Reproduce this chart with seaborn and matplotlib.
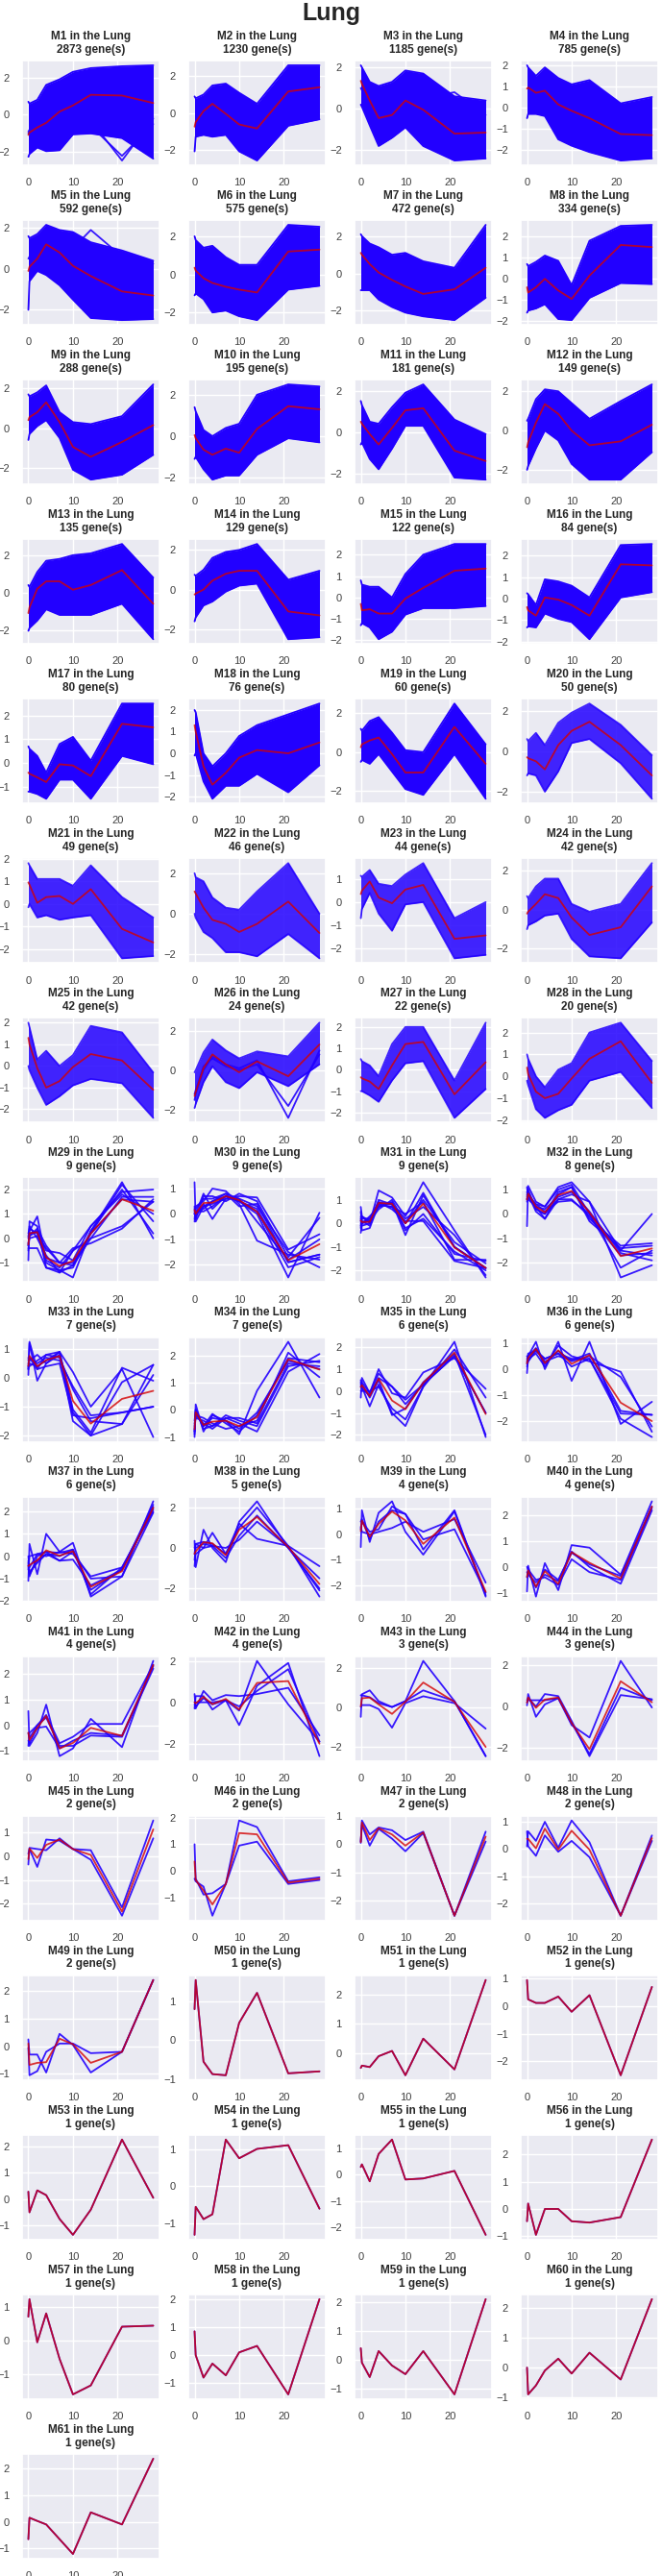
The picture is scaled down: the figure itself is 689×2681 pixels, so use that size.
import numpy as np
import pandas as pd
import matplotlib
matplotlib.use("Agg")
import matplotlib.pyplot as plt
from matplotlib.ticker import MaxNLocator
import seaborn as sns

# ---------------- data ----------------
TISSUE = "Lung"
TIME = [0, 0.25, 2, 4, 7, 10, 14, 21, 28]

MODULES = [f"M{i}" for i in range(1, 62)]
GENE_COUNTS = [2873, 1230, 1185, 785, 592, 575, 472, 334, 288, 195, 181, 149,
               135, 129, 122, 84, 80, 76, 60, 50, 49, 46, 44, 42, 42, 24, 22, 20,
               9, 9, 9, 8, 7, 7, 6, 6, 6, 5, 4, 4, 4, 4, 3, 3,
               2, 2, 2, 2, 2, 1, 1, 1, 1, 1, 1, 1, 1, 1, 1, 1, 1]

# mean profiles of the large modules (red line)
MEAN_PROFILES = {
    "M1": [-1.08, -0.95, -0.68, -0.43, 0.17, 0.5, 1.07, 1.03, 0.63],
    "M2": [-0.75, -0.5, 0.1, 0.5, -0.05, -0.63, -0.85, 1.17, 1.4],
    "M3": [1.35, 1.2, 0.4, -0.45, -0.3, 0.4, -0.05, -1.2, -1.15],
    "M4": [0.9, 0.95, 0.7, 0.8, 0.15, -0.15, -0.5, -1.25, -1.3],
    "M5": [-0.1, 0.1, 0.5, 1.2, 0.8, 0.15, -0.35, -1.1, -1.3],
    "M6": [0.35, 0.2, -0.2, -0.45, -0.65, -0.8, -0.95, 1.2, 1.3],
    "M7": [1.1, 1.0, 0.5, 0.05, -0.35, -0.7, -1.1, -0.85, 0.3],
    "M8": [-0.4, -0.65, -0.4, 0.0, -0.55, -0.95, 0.15, 1.6, 1.5],
    "M9": [0.4, 0.55, 0.8, 1.3, 0.3, -0.95, -1.45, -0.7, 0.15],
    "M10": [0.05, -0.1, -0.65, -0.9, -0.6, -0.8, 0.35, 1.45, 1.3],
    "M11": [0.5, 0.4, -0.1, -0.6, 0.2, 1.05, 1.15, -0.9, -1.4],
    "M12": [-0.85, -0.6, 0.4, 1.35, 0.85, 0.0, -0.75, -0.55, 0.3],
    "M13": [-1.1, -0.8, 0.2, 0.6, 0.6, 0.15, 0.4, 1.2, -0.6],
    "M14": [-0.25, -0.2, 0.0, 0.45, 0.8, 0.95, 0.95, -1.1, -1.3],
    "M15": [-0.3, -0.6, -0.55, -0.75, -0.75, -0.05, 0.45, 1.25, 1.35],
    "M16": [-0.4, -0.55, -0.8, 0.05, -0.05, -0.3, -0.8, 1.6, 1.55],
    "M17": [-0.4, -0.45, -0.6, -0.8, -0.05, -0.1, -0.55, 1.65, 1.5],
    "M18": [1.3, 1.0, -0.6, -1.45, -0.9, -0.2, 0.15, 0.0, 0.5],
    "M19": [0.25, 0.4, 0.6, 0.75, -0.1, -1.05, -1.05, 1.3, -0.6],
    "M20": [-0.3, -0.35, -0.5, -0.9, 0.3, 1.0, 1.45, 0.3, -1.2],
    "M21": [0.95, 0.85, 0.05, 0.3, 0.35, 0.0, 0.65, -1.1, -1.7],
    "M22": [1.1, 1.0, 0.3, -0.3, -0.5, -0.9, -0.5, 0.6, -0.95],
    "M23": [0.35, 0.5, 0.9, 0.2, -0.05, 0.55, 0.75, -1.6, -1.45],
    "M24": [-0.2, -0.1, 0.3, 0.8, 0.6, -0.4, -1.3, -0.9, 1.2],
    "M25": [1.3, 1.0, -0.1, -1.0, -0.7, -0.05, 0.55, 0.25, -1.1],
    "M26": [-1.3, -1.1, 0.1, 0.8, 0.3, -0.1, 0.45, -0.3, 1.3],
    "M27": [-0.35, -0.4, -0.55, -0.9, 0.2, 1.2, 1.3, -1.15, 0.35],
    "M28": [0.4, 0.1, -0.7, -1.0, -0.8, -0.1, 0.8, 1.6, -0.3],
}

# upper / lower envelope of the member genes of the large modules
UPPER_ENVELOPE = {
    "M1": [0.7, 0.6, 0.8, 1.6, 1.9, 2.3, 2.5, 2.6, 2.65],
    "M2": [0.9, 0.8, 1.0, 1.5, 1.6, 1.1, 0.5, 2.6, 2.6],
    "M3": [2.1, 2.0, 1.3, 1.1, 1.3, 1.85, 1.7, 0.6, 0.4],
    "M4": [2.0, 1.9, 1.5, 1.9, 1.4, 1.1, 1.3, 0.2, 0.5],
    "M5": [1.6, 1.5, 1.7, 2.15, 1.9, 1.8, 1.3, 0.9, 0.4],
    "M6": [2.0, 1.8, 1.4, 1.5, 0.9, 0.5, 0.5, 2.6, 2.5],
    "M7": [2.1, 2.0, 1.6, 1.4, 1.0, 1.1, 0.65, 0.3, 2.6],
    "M8": [0.7, 0.6, 0.8, 1.1, 0.85, -0.3, 1.8, 2.5, 2.55],
    "M9": [1.7, 1.6, 1.8, 2.15, 0.8, 0.3, 0.2, 0.6, 2.2],
    "M10": [1.4, 1.2, 0.3, 0.0, 0.4, 0.6, 2.0, 2.5, 2.4],
    "M11": [1.5, 1.3, 0.5, 0.4, 1.2, 1.9, 2.3, 0.6, -0.1],
    "M12": [0.5, 0.6, 1.6, 2.1, 2.0, 1.4, 0.6, 1.5, 2.35],
    "M13": [0.4, 0.3, 1.1, 1.7, 1.8, 2.0, 2.1, 2.6, 0.8],
    "M14": [0.75, 0.7, 1.0, 1.6, 1.9, 2.0, 2.3, 0.5, 0.95],
    "M15": [0.8, 0.6, 0.5, 0.5, 0.0, 1.1, 2.0, 2.5, 2.5],
    "M16": [0.25, 0.2, -0.3, 0.9, 0.8, 0.6, 0.05, 2.5, 2.55],
    "M17": [0.7, 0.6, 0.3, -0.4, 0.8, 1.1, 0.1, 2.5, 2.5],
    "M18": [2.0, 1.9, 0.0, -0.6, 0.0, 0.8, 1.3, 1.8, 2.3],
    "M19": [1.2, 1.1, 1.6, 1.8, 1.0, 0.1, 0.0, 2.5, 0.4],
    "M20": [0.6, 0.5, 0.9, 0.3, 1.4, 1.9, 2.35, 1.3, -0.2],
    "M21": [1.8, 1.7, 1.1, 1.1, 1.1, 0.8, 1.7, 0.3, -0.6],
    "M22": [2.0, 1.8, 1.6, 0.8, 0.3, 0.2, 1.1, 2.5, 0.0],
    "M23": [1.15, 1.1, 1.4, 0.8, 0.7, 1.2, 1.7, -0.7, 0.0],
    "M24": [0.7, 0.6, 1.2, 1.6, 1.6, 0.3, -0.1, 0.3, 2.4],
    "M25": [2.0, 1.8, 0.3, 0.7, 0.0, 0.5, 1.85, 1.55, -0.3],
    "M26": [-0.1, 0.0, 0.9, 1.55, 1.0, 0.6, 0.95, 0.7, 2.4],
    "M27": [0.5, 0.4, 0.2, -0.3, 1.2, 2.0, 2.0, -0.5, 2.2],
    "M28": [1.0, 0.8, 0.0, -0.5, 0.3, 0.6, 2.0, 2.45, 0.7],
}
LOWER_ENVELOPE = {
    "M1": [-2.25, -2.1, -1.75, -1.95, -1.9, -1.05, -1.0, -1.25, -2.35],
    "M2": [-2.1, -1.3, -1.2, -1.3, -1.2, -2.1, -2.6, -0.7, -0.35],
    "M3": [0.2, 0.1, -0.8, -1.8, -1.4, -0.9, -1.8, -2.5, -2.4],
    "M4": [-0.5, -0.3, -0.3, -0.4, -1.5, -1.8, -2.1, -2.5, -2.4],
    "M5": [-2.0, -0.6, -0.1, -0.3, -0.8, -1.5, -2.4, -2.5, -2.45],
    "M6": [-1.1, -1.0, -1.3, -2.0, -1.9, -2.2, -2.4, -0.8, -0.6],
    "M7": [-0.9, -0.9, -0.9, -1.4, -1.8, -2.1, -2.3, -2.5, -1.3],
    "M8": [-1.6, -1.5, -1.4, -1.2, -1.9, -1.95, -0.9, -0.2, -0.25],
    "M9": [-0.6, -0.3, 0.1, 0.4, -0.5, -2.1, -2.6, -2.35, -1.35],
    "M10": [-1.1, -1.0, -1.6, -2.1, -1.9, -1.9, -0.9, -0.1, -0.3],
    "M11": [-0.6, -0.5, -1.3, -1.8, -0.8, 0.3, 0.3, -2.2, -2.3],
    "M12": [-2.0, -1.8, -0.9, 0.0, -0.5, -1.7, -2.5, -2.5, -1.1],
    "M13": [-2.05, -1.9, -1.5, -0.9, -1.2, -1.2, -1.2, -0.6, -2.5],
    "M14": [-1.6, -1.4, -0.8, -0.6, -0.1, 0.2, 0.3, -2.5, -2.4],
    "M15": [-1.3, -1.2, -1.4, -1.95, -1.6, -0.8, -0.5, -0.5, -0.4],
    "M16": [-1.35, -1.3, -1.35, -0.7, -0.95, -1.1, -1.9, 0.05, 0.3],
    "M17": [-1.2, -1.2, -1.3, -1.5, -0.7, -0.7, -1.5, 0.3, -0.05],
    "M18": [-0.1, 0.0, -1.3, -2.1, -1.5, -1.5, -0.95, -1.8, -0.55],
    "M19": [-0.5, -0.4, -0.6, -0.1, -1.0, -1.9, -2.2, -0.1, -2.4],
    "M20": [-1.2, -1.1, -1.2, -2.0, -1.0, 0.4, 0.6, -0.6, -2.35],
    "M21": [-0.15, 0.0, -0.6, -0.5, -0.7, -0.6, -0.5, -2.4, -2.3],
    "M22": [0.0, -0.2, -0.9, -1.2, -1.9, -1.9, -2.1, -1.0, -2.2],
    "M23": [-0.7, -0.3, 0.4, -0.5, -1.25, -0.1, 0.0, -2.45, -2.3],
    "M24": [-1.0, -0.8, -0.6, -0.3, -0.2, -1.5, -2.4, -2.5, -0.65],
    "M25": [0.0, -0.2, -1.0, -1.8, -1.4, -0.9, -0.6, -0.8, -2.4],
    "M26": [-1.9, -1.7, -0.6, 0.2, -0.6, -0.9, -0.1, -0.8, 0.3],
    "M27": [-1.0, -1.0, -1.2, -1.5, -0.5, 0.3, 0.4, -2.25, -0.9],
    "M28": [-0.2, -0.4, -1.5, -1.9, -1.55, -1.3, -0.2, 0.2, -1.45],
}
# stray genes visible outside the dense band of some large modules
OUTLIER_GENES = {
    "M1": [[-1.0, -0.9, -0.7, -0.8, -0.9, -1.0, -0.3, -2.45, -0.2],
           [-0.9, -0.8, -0.6, -0.5, -0.7, -0.9, -0.6, -2.2, -0.5]],
    "M3": [[1.0, 0.9, 0.3, 0.0, 0.6, 0.7, 0.5, 0.8, -0.3]],
    "M5": [[0.5, 0.6, 1.0, 1.5, 1.2, 1.0, 1.9, 0.6, 0.25]],
    "M26": [[-1.2, -1.0, 0.2, 0.6, 0.2, 0.0, 0.3, -1.8, 0.8],
            [-1.5, -1.2, 0.0, 0.7, 0.3, 0.1, 0.5, -2.4, 1.0]],
}

# individual gene profiles of the small modules
GENE_PROFILES = {
    "M29": [[-0.9, 0.7, 0.5, -1.2, -1.3, -1.6, 0.3, 2.3, 0.0],
            [-0.3, 0.3, 0.9, -0.9, -1.2, -0.5, 0.5, 1.9, 2.0],
            [0.0, 0.5, 0.0, -0.7, -1.4, -1.1, 0.0, 1.7, 1.7],
            [-0.3, 0.1, 0.3, -0.8, -1.0, -0.4, -0.2, 0.4, 1.6],
            [0.2, 0.4, 0.2, -1.0, -1.3, -1.2, 0.3, 2.0, 0.2],
            [-0.4, -0.4, -0.4, -1.2, -1.4, -0.5, 0.0, 0.5, 1.5],
            [0.1, 0.2, 0.3, -0.5, -0.6, -0.9, 0.5, 1.8, 1.0],
            [-0.2, 0.0, 0.1, -0.4, -1.0, -1.1, 0.2, 2.2, 0.7],
            [-0.5, 0.1, 0.4, -0.3, -1.0, -1.0, 0.2, 1.6, 1.5]],
    "M30": [[1.25, -0.3, 0.3, 0.5, 0.8, 0.6, 0.3, -1.5, -2.1],
            [-0.3, 0.0, 0.8, 0.2, 0.7, 0.5, 0.0, -2.5, 0.05],
            [0.0, 0.3, 0.5, 1.0, 0.9, 0.4, -1.05, -1.6, -1.8],
            [0.2, -0.1, 0.4, -0.2, 0.6, 0.7, 0.65, -1.4, -0.8],
            [-0.2, 0.2, 0.6, 0.6, 0.8, 0.3, 0.4, -1.9, -1.6],
            [0.0, 0.1, 0.2, 0.5, 0.7, 0.5, 0.1, -2.1, -1.7],
            [0.3, -0.2, 0.7, 0.7, 0.5, 0.8, 0.5, -1.7, -0.15],
            [0.1, 0.0, 0.3, 0.4, 0.6, 0.6, -0.3, -1.8, -1.0],
            [0.0, 0.1, 0.1, 0.3, 0.7, 0.5, 0.2, -1.9, -1.6]],
    "M31": [[0.7, 0.3, 0.0, 1.4, 1.1, 0.3, 1.75, -0.3, -2.3],
            [-0.4, 0.0, 0.3, 0.7, 0.9, -0.5, 1.2, -1.0, -1.9],
            [0.2, -0.3, -0.2, 0.8, 0.7, 0.4, 0.9, -1.55, -1.55],
            [0.5, 0.0, 0.2, 0.9, 0.8, -0.2, 0.2, -1.2, -2.0],
            [-0.2, 0.3, 0.1, 0.6, 1.0, 0.0, 1.0, -0.8, -1.7],
            [0.0, 0.1, -0.1, 0.9, 0.6, 0.1, 0.1, -1.6, -1.9],
            [0.3, -0.1, 0.0, 1.0, 0.8, 0.2, 0.7, -0.5, -2.2],
            [-0.1, 0.2, 0.2, 0.7, 0.9, -0.3, 0.4, -1.3, -1.6],
            [0.1, 0.0, 0.1, 0.8, 0.7, 0.0, 1.3, -1.0, -1.9]],
    "M32": [[-0.5, 1.15, 0.5, 0.3, 1.1, 1.3, 0.5, -2.6, -2.1],
            [1.1, 0.6, 0.3, -0.2, 0.6, 0.8, 0.5, -1.5, 0.0],
            [0.6, 0.9, 0.2, 0.0, 0.9, 1.1, -0.2, -1.3, -1.2],
            [0.8, 0.7, 0.4, 0.1, 0.5, 0.55, 0.0, -2.2, -1.5],
            [0.5, 0.8, 0.1, -0.2, 0.8, 1.1, -0.3, -1.4, -1.3],
            [0.9, 0.7, 0.3, 0.2, 0.7, 0.9, 0.1, -1.6, -1.9],
            [0.7, 1.0, 0.2, 0.0, 0.6, 0.6, -0.1, -1.7, -1.6],
            [0.6, 0.8, 0.4, 0.3, 1.0, 1.2, 0.0, -1.5, -1.7]],
    "M33": [[0.1, 1.25, 0.3, 0.8, 0.9, 0.2, -1.0, 0.3, -2.05],
            [0.3, 1.2, -0.1, 0.5, 0.8, -1.5, -2.0, -0.15, 0.45],
            [0.5, 0.6, 0.8, 0.5, 0.9, -1.1, -1.9, 0.35, -0.1],
            [0.7, 0.4, 0.6, 0.8, 0.7, -0.4, -1.5, -1.6, 0.45],
            [0.3, 0.7, 0.5, 0.7, 0.6, -0.3, -1.3, -1.2, -1.0],
            [0.4, 0.5, 0.4, 0.6, 0.9, -1.2, -2.0, -1.6, 0.1],
            [0.6, 0.7, 0.3, 0.4, 0.5, -1.3, -1.4, -1.2, -1.0]],
    "M34": [[-1.0, 0.2, -0.8, -0.2, -0.4, -0.9, 0.7, 2.5, 0.45],
            [-0.8, -0.2, -0.5, -0.7, -0.3, -0.5, -0.8, 1.4, 2.05],
            [-0.9, 0.0, -0.6, -0.15, -0.5, -0.8, -0.2, 1.9, 1.75],
            [-0.5, -0.3, -0.4, -0.6, -0.3, -0.3, -0.5, 1.7, 1.6],
            [-0.6, -0.2, -0.3, -0.5, -0.7, -0.6, -0.4, 2.1, 1.2],
            [-0.4, -0.1, -0.6, -0.3, -0.4, -0.7, -0.1, 1.8, 1.5],
            [-0.8, 0.0, -0.7, -0.6, -0.2, -0.4, -0.6, 1.6, 1.8]],
    "M35": [[-0.3, 0.6, -0.1, 1.0, -0.1, -0.3, 0.85, 1.5, 0.1],
            [0.5, 0.2, -0.7, 0.3, -1.0, -1.6, 0.2, 2.25, -2.1],
            [0.2, 0.4, -0.1, 0.8, 0.2, -0.6, 0.3, 1.6, -1.0],
            [0.0, 0.0, 0.0, 0.2, -0.8, -1.3, 0.2, 1.9, -0.3],
            [0.3, 0.3, -0.3, 0.5, -1.1, -0.8, 0.4, 1.7, -2.0],
            [0.4, 0.1, -0.2, 0.6, 0.2, -0.4, 0.3, 1.6, -1.0]],
    "M36": [[-0.15, 0.5, 1.05, 0.0, 1.05, -0.45, 1.05, -2.1, -1.25],
            [0.4, 0.3, 0.7, 0.4, 0.6, 0.4, 0.4, -1.9, -2.6],
            [0.3, 0.5, 0.8, 0.2, 0.7, 0.3, 0.5, -0.3, -2.2],
            [0.5, 0.4, 0.6, 0.1, 0.9, 0.5, 0.3, -0.1, -2.4],
            [0.2, 0.6, 0.7, 0.4, 0.6, 0.1, 0.4, -1.7, -1.75],
            [0.1, 0.3, 0.8, 0.3, 0.5, 0.35, 0.6, -1.6, -1.75]],
    "M37": [[-1.1, 0.55, -0.8, 1.0, 0.2, 0.6, -1.8, -0.9, 2.45],
            [-0.3, -0.8, -0.2, 0.1, 0.0, 0.3, -1.7, -0.5, 2.0],
            [-0.6, 0.0, 0.1, 0.2, -0.2, 0.2, -1.0, -0.9, 1.95],
            [0.0, -0.5, 0.1, 0.0, 0.2, 0.1, -0.9, -0.5, 2.1],
            [-0.2, -0.7, -0.3, 0.1, -0.2, -0.15, -1.3, -0.6, 2.2],
            [-0.4, -0.9, 0.0, 0.2, 0.15, 0.3, -1.5, -0.6, 2.3]],
    "M38": [[0.35, -0.95, 0.9, 0.0, -0.7, 1.3, 2.3, 0.0, -1.5],
            [-0.9, -0.3, 0.0, 0.75, -0.3, 1.0, 2.0, 0.1, -2.4],
            [-0.3, 0.2, 0.3, 0.2, -0.3, 1.2, 0.45, 0.1, -0.9],
            [0.0, 0.2, 0.0, 0.1, -0.5, 0.6, 1.6, 0.0, -2.0],
            [-0.6, 0.0, 0.2, 0.1, 0.0, 0.4, 1.3, 0.05, -2.1]],
    "M39": [[-0.5, 0.95, -0.3, 0.85, 1.3, 0.1, -0.8, 0.9, -2.45],
            [0.3, 0.1, 0.0, 0.1, 0.25, 0.5, 0.1, 0.6, -1.9],
            [0.5, 0.6, -0.2, 0.5, 0.95, 0.8, -0.6, 0.95, -2.4],
            [0.2, 0.5, 0.1, 0.2, 1.1, 0.8, -0.2, 0.2, -2.3]],
    "M40": [[-0.95, 0.05, -1.15, 0.15, -0.9, 0.85, 0.75, -0.3, 2.55],
            [-0.2, -0.3, -0.6, -0.3, -0.55, 0.6, 0.0, -0.65, 2.2],
            [0.0, -0.1, -0.5, -0.4, -0.7, 0.3, -0.2, -0.5, 2.3],
            [-0.4, -0.2, -0.8, -0.1, -0.5, 0.55, 0.1, -0.35, 2.35]],
    "M41": [[0.55, -0.8, -0.3, 0.8, -1.2, -0.9, 0.25, -0.85, 2.5],
            [-0.8, -0.3, 0.0, 0.4, -0.7, -0.45, 0.05, 0.05, 2.35],
            [-0.3, -0.5, 0.0, 0.3, -0.8, -0.8, -0.4, -0.45, 2.2],
            [-0.6, -0.7, -0.1, -0.05, -0.9, -0.6, -0.3, -0.4, 2.3]],
    "M42": [[0.4, -0.3, 0.55, 0.1, 0.35, 0.3, 0.4, 0.7, -1.6],
            [-0.3, 0.3, 0.3, -0.35, 0.1, -1.1, 0.8, 1.9, -2.6],
            [0.0, 0.0, 0.0, 0.0, 0.1, -0.4, 2.0, -0.1, -1.9],
            [-0.1, -0.2, 0.2, -0.1, 0.1, -0.2, 0.55, 1.6, -1.9]],
    "M43": [[-0.5, 0.65, 0.85, 0.3, 0.0, 0.3, 2.35, 0.3, -2.5],
            [0.0, 0.1, 0.1, -0.1, -1.05, 0.2, 0.55, 0.2, -1.1],
            [0.6, 0.6, 0.5, 0.2, 0.0, 0.3, 0.85, 0.3, -2.5]],
    "M44": [[0.05, 0.6, -0.5, 0.1, 0.4, -0.9, -1.5, 2.2, -0.05],
            [0.3, 0.4, 0.0, 0.6, 0.5, -0.7, -2.4, 0.55, 0.35],
            [0.2, 0.3, 0.3, 0.3, 0.4, -0.8, -2.3, 0.9, 0.3]],
    "M45": [[-0.35, 0.35, 0.3, 0.25, 0.75, 0.3, 0.25, -2.15, 1.5],
            [0.1, 0.3, -0.45, 0.7, 0.65, 0.3, -0.15, -2.5, 0.75]],
    "M46": [[1.0, -0.3, -0.9, -0.85, -0.5, 1.9, 1.65, -0.4, -0.25],
            [-0.3, -0.4, -0.6, -1.7, -0.5, 0.95, 1.1, -0.5, -0.35]],
    "M47": [[0.05, 0.85, 0.35, 0.6, 0.5, 0.15, 0.45, -2.55, 0.45],
            [0.1, 0.7, -0.05, 0.55, 0.2, -0.25, 0.4, -2.55, 0.1]],
    "M48": [[0.1, 0.65, 0.3, 1.0, 0.05, 1.05, 0.25, -2.45, 0.5],
            [0.65, 0.1, -0.25, 0.5, -0.1, 0.3, -0.3, -2.45, 0.3]],
    "M49": [[0.25, -0.3, -0.3, -0.95, 0.45, 0.05, -0.95, -0.2, 2.4],
            [-0.05, -1.05, -0.9, -0.2, 0.1, 0.1, -0.25, -0.2, 2.4]],
    "M50": [[0.8, 1.55, -0.55, -0.87, -0.9, 0.45, 1.22, -0.85, -0.8]],
    "M51": [[-0.5, -0.42, -0.47, -0.1, 0.08, -0.75, 0.5, -0.55, 2.5]],
    "M52": [[0.95, 0.25, 0.12, 0.12, 0.35, -0.2, 0.4, -2.5, 0.7]],
    "M53": [[0.28, -0.5, 0.33, 0.15, -0.75, -1.35, -0.4, 2.25, 0.05]],
    "M54": [[-1.3, -0.55, -0.88, -0.75, 1.25, 0.75, 1.0, 1.1, -0.6]],
    "M55": [[0.3, 0.4, -0.25, 0.8, 1.35, -0.18, -0.14, 0.15, -2.3]],
    "M56": [[-0.45, 0.2, -0.95, 0.0, 0.0, -0.45, -0.5, -0.3, 2.55]],
    "M57": [[0.72, 1.25, -0.05, 0.82, -0.55, -1.62, -1.35, 0.42, 0.45]],
    "M58": [[0.85, 0.0, -0.8, -0.3, -0.72, 0.1, 0.33, -1.4, 2.0]],
    "M59": [[0.4, -0.1, -0.6, 0.3, -0.2, -0.5, 0.3, -1.2, 2.1]],
    "M60": [[0.0, -0.9, -0.6, -0.1, 0.3, -0.2, 0.5, -0.4, 2.3]],
    "M61": [[-0.65, 0.15, 0.03, -0.1, -0.65, -1.2, 0.35, -0.1, 2.35]],
}

# ---------------- style ----------------
BLUE = "#2200ff"
RED = "#d40000"
LW = 1.3

sns.set_theme(style="darkgrid")
plt.rcParams["font.family"] = ["Liberation Sans", "DejaVu Sans"]

W, H = 689, 2681
fig, axes = plt.subplots(16, 4, figsize=(W / 100, H / 100), dpi=100)
fig.subplots_adjust(left=23 / W, right=685 / W, top=1 - 63 / H, bottom=18 / H,
                    wspace=0.21, hspace=0.523)
fig.suptitle(TISSUE, fontsize=18, fontweight="bold", y=1 - 2 / H, va="top")


def long_frame(profiles):
    rows = []
    for g, prof in enumerate(profiles):
        for t, v in zip(TIME, prof):
            rows.append((g, t, v))
    return pd.DataFrame(rows, columns=["gene", "time", "value"])


for i, (mod, n) in enumerate(zip(MODULES, GENE_COUNTS)):
    ax = axes.flat[i]
    if mod in GENE_PROFILES:
        profiles = np.array(GENE_PROFILES[mod], dtype=float)
        df = long_frame(profiles)
        sns.lineplot(data=df, x="time", y="value", units="gene", estimator=None,
                     color=BLUE, lw=LW, alpha=0.9, ax=ax)
        mean = profiles.mean(axis=0)
    else:
        lo = LOWER_ENVELOPE[mod]
        hi = UPPER_ENVELOPE[mod]
        a = 1.0 if n >= 60 else 0.85
        ax.fill_between(TIME, lo, hi, color=BLUE, alpha=a, lw=0)
        sns.lineplot(x=TIME, y=hi, color=BLUE, lw=LW, alpha=a, ax=ax)
        sns.lineplot(x=TIME, y=lo, color=BLUE, lw=LW, alpha=a, ax=ax)
        if mod in OUTLIER_GENES:
            df = long_frame(OUTLIER_GENES[mod])
            sns.lineplot(data=df, x="time", y="value", units="gene", estimator=None,
                         color=BLUE, lw=LW, alpha=0.9, ax=ax)
        mean = np.array(MEAN_PROFILES[mod])
    sns.lineplot(x=TIME, y=mean, color=RED, lw=LW, alpha=0.8, ax=ax)
    ax.set_title(f"{mod} in the {TISSUE}\n{n} gene(s)", fontsize=8.5,
                 fontweight="bold", color="0.15")
    ax.set_xlabel("")
    ax.set_ylabel("")
    ax.yaxis.set_major_locator(MaxNLocator(nbins=5, steps=[1, 2, 2.5, 5, 10]))
    ax.tick_params(labelsize=8, colors="0.25")

for j in range(len(MODULES), 64):
    axes.flat[j].axis("off")

fig.savefig("out.png", dpi=100)
